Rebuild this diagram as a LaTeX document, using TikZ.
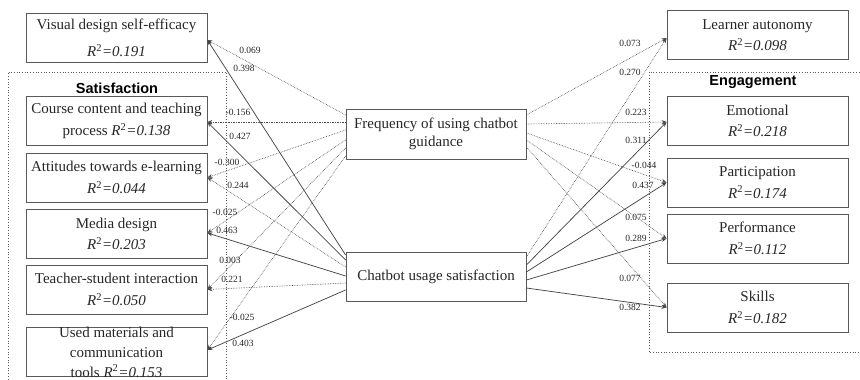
\documentclass[tikz,border=0pt]{standalone}
\usepackage{fontspec}
\setmainfont{Liberation Serif}
\newfontfamily\headfont{Liberation Sans}
\usetikzlibrary{arrows.meta}
\newcommand\Rsq[1]{\textit{R}\textsuperscript{2}\textit{=#1}}
\begin{document}
\begin{tikzpicture}[x=1pt,y=-1pt,
  box/.style={draw=black!65, line width=0.8pt, minimum width=181pt, minimum height=49pt, inner sep=0pt},
  txt/.style={align=center, inner sep=0pt, font=\fontsize{15}{21.5}\selectfont, text=black!85},
  lab/.style={inner sep=0pt, font=\fontsize{9.5}{10}\selectfont, text=black!85},
  grp/.style={draw=black!65, line width=0.7pt, dotted},
  head/.style={inner sep=0pt, font=\headfont\bfseries\fontsize{14.5}{16}\selectfont},
  dotarr/.style={draw=black!70, line width=0.65pt, densely dotted, -{Stealth[length=5pt,width=4pt]}},
  solarr/.style={draw=black!72, line width=0.75pt, -{Stealth[length=5pt,width=4pt]}}]
\useasboundingbox (0,0) rectangle (860,380);
\clip (0,0) rectangle (860,380);
% group boxes
\draw[grp] (8,390) -- (8,72) -- (226,72) -- (226,390);
\draw[grp] (870,72) -- (649,72) -- (649,352) -- (870,352);
\node[head] (sathead) at (117,88) {Satisfaction};
\node[head] (enghead) at (753,82) {Engagement};
% left boxes
\node[box] (vis) at (116.5,38) {};
\node[txt] (vist) at (vis) {Visual design self-efficacy\\[6pt]\Rsq{0.191}};
\node[box] (course) at (116.5,121) {};
\node[txt] (courset) at (course) {Course content and teaching\\process \Rsq{0.138}};
\node[box] (att) at (116.5,177.5) {};
\node[txt] (attt) at (att) {Attitudes towards e-learning\\\Rsq{0.044}};
\node[box] (media) at (116.5,234) {};
\node[txt] (mediat) at (media) {Media design\\\Rsq{0.203}};
\node[box] (teach) at (116.5,289.5) {};
\node[txt] (teacht) at (teach) {Teacher-student interaction\\\Rsq{0.050}};
\node[box] (used) at (116.5,352) {};
\node[txt, font=\fontsize{15}{20}\selectfont] (usedt) at (used) {Used materials and\\communication\\tools \Rsq{0.153}};
% middle boxes
\node[box, minimum width=180pt, minimum height=50pt] (freq) at (436,134) {};
\node[txt, font=\fontsize{15}{18}\selectfont] (freqt) at (freq) {Frequency of using chatbot\\guidance};
\node[box, minimum width=180pt, minimum height=49pt] (chat) at (436,276.5) {};
\node[txt] (chatt) at (chat) {Chatbot usage satisfaction};
% right boxes
\node[box] (learn) at (757.5,35) {};
\node[txt] (learnt) at (learn) {Learner autonomy\\\Rsq{0.098}};
\node[box] (emo) at (757.5,121) {};
\node[txt] (emot) at (emo) {Emotional\\\Rsq{0.218}};
\node[box] (part) at (757.5,182.5) {};
\node[txt] (partt) at (part) {Participation\\\Rsq{0.174}};
\node[box] (perf) at (757.5,238.5) {};
\node[txt] (perft) at (perf) {Performance\\\Rsq{0.112}};
\node[box] (skill) at (757.5,307.5) {};
\node[txt] (skillt) at (skill) {Skills\\\Rsq{0.182}};
% left connectors from frequency
\draw[dotarr] ([yshift=19pt]freq.west) -- ([yshift=-2pt]vis.east);
\draw[dotarr] ([yshift=12pt]freq.west) -- ([yshift=-1pt]course.east);
\draw[dotarr] ([yshift=4pt]freq.west) -- (att.east);
\draw[dotarr] ([yshift=-6pt]freq.west) -- ([yshift=1pt]media.east);
\draw[dotarr] ([yshift=-14pt]freq.west) -- (teach.east);
\draw[dotarr] ([yshift=-22pt]freq.west) -- ([yshift=2pt]used.east);
% left connectors from chatbot
\draw[solarr] ([yshift=21.5pt]chat.west) -- ([yshift=-2pt]vis.east);
\draw[solarr] ([yshift=16.5pt]chat.west) -- ([yshift=-1pt]course.east);
\draw[dotarr] ([yshift=9.5pt]chat.west) -- (att.east);
\draw[solarr] ([yshift=0.5pt]chat.west) -- ([yshift=1pt]media.east);
\draw[dotarr] ([yshift=-6.5pt]chat.west) -- (teach.east);
\draw[solarr] ([yshift=-13.5pt]chat.west) -- ([yshift=2pt]used.east);
% right connectors from frequency
\draw[dotarr] ([yshift=19pt]freq.east) -- ([yshift=-3pt]learn.west);
\draw[dotarr] ([yshift=10pt]freq.east) -- ([yshift=-1pt]emo.west);
\draw[dotarr] ([yshift=1pt]freq.east) -- (part.west);
\draw[dotarr] ([yshift=-6pt]freq.east) -- (perf.west);
\draw[dotarr] ([yshift=-13pt]freq.east) -- (skill.west);
% right connectors from chatbot
\draw[dotarr] ([yshift=19.5pt]chat.east) -- ([yshift=-3pt]learn.west);
\draw[solarr] ([yshift=11.5pt]chat.east) -- ([yshift=-1pt]emo.west);
\draw[solarr] ([yshift=4.5pt]chat.east) -- (part.west);
\draw[solarr] ([yshift=-3.5pt]chat.east) -- (perf.west);
\draw[solarr] ([yshift=-11.5pt]chat.east) -- (skill.west);
% coefficient labels, left
\node[lab] (l1) at (250,50) {0.069};
\node[lab] (l2) at (244,68) {0.398};
\node[lab] (l3) at (238,112) {-0.156};
\node[lab] (l4) at (240,136) {0.427};
\node[lab] (l5) at (227,162) {-0.300};
\node[lab] (l6) at (238,185) {0.244};
\node[lab] (l7) at (225,212) {-0.025};
\node[lab] (l8) at (227,230) {0.463};
\node[lab] (l9) at (230,260) {0.003};
\node[lab] (l10) at (232,279) {0.221};
\node[lab] (l11) at (242,317) {-0.025};
\node[lab] (l12) at (243,343) {0.403};
% coefficient labels, right
\node[lab] (r1) at (630,43) {0.073};
\node[lab] (r2) at (630,72) {0.270};
\node[lab] (r3) at (636,112) {0.223};
\node[lab] (r4) at (636,140) {0.311};
\node[lab] (r5) at (644,165) {-0.044};
\node[lab] (r6) at (643,185) {0.437};
\node[lab] (r7) at (636,217) {0.075};
\node[lab] (r8) at (636,238) {0.289};
\node[lab] (r9) at (630,278) {0.077};
\node[lab] (r10) at (630,307) {0.382};
\end{tikzpicture}
\end{document}
